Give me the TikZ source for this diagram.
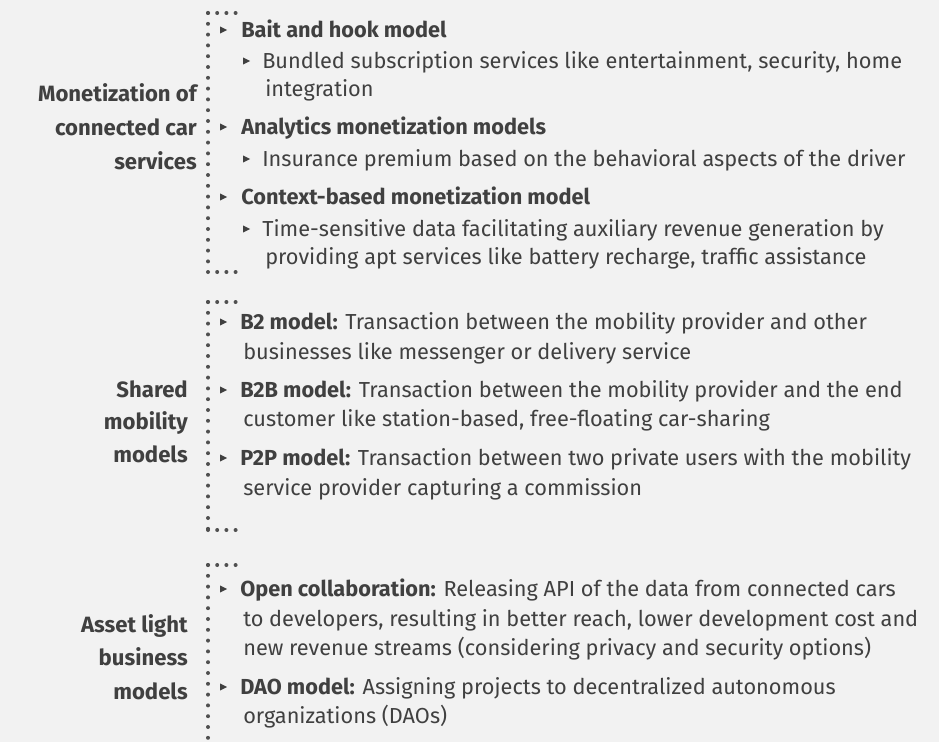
\documentclass[tikz,border=0pt]{standalone}
\usepackage{fontspec}
\setmainfont{Fira Sans}
\definecolor{bg}{HTML}{F2F2F2}
\definecolor{txt}{HTML}{404040}
\definecolor{dotc}{HTML}{505050}
\newcommand{\bodyfont}{\fontsize{16.3pt}{19pt}\selectfont}
\newcommand{\labfont}{\fontsize{16.6pt}{19pt}\selectfont\bfseries}
\newcommand{\mybul}[2]{\fill[txt] (#1-3,#2-3.6) -- (#1+4,#2) -- (#1-3,#2+3.6) -- cycle;}
\begin{document}
\begin{tikzpicture}[x=0.75pt,y=-0.75pt,
  line/.style={anchor=mid west,inner sep=0pt,text=txt,font=\bodyfont,yshift=-3.3pt},
  lab/.style={anchor=mid east,inner sep=0pt,text=txt,font=\labfont,yshift=-3.3pt},
  vdots/.style={draw=dotc,line width=3pt,line cap=round,dash pattern=on 0pt off 8.1pt},
  hdots/.style={draw=dotc,line width=3pt,line cap=round,dash pattern=on 0pt off 6.9pt}]
\useasboundingbox[fill=bg] (0,0) rectangle (939,742);
% ---------- group 1
\coordinate (g1a) at (208,13);
\coordinate (g1b) at (236.5,13);
\coordinate (g1c) at (208,272);
\coordinate (g1d) at (236.5,272);
\draw[hdots] (g1a) -- (g1b);
\draw[vdots] (g1a) -- (g1c);
\draw[hdots] (g1c) -- (g1d);
\node[lab] (l1a) at (197,94) {Monetization of};
\node[lab] (l1b) at (197,128) {connected car};
\node[lab] (l1c) at (197,162) {services};
\mybul{223}{30}
\node[line] (t1a) at (241,30) {\bfseries Bait and hook model};
\mybul{246}{61}
\node[line] (t1b) at (262,61) {Bundled subscription services like entertainment, security, home};
\node[line] (t1c) at (265,89) {integration};
\mybul{223}{127}
\node[line] (t1d) at (241,127) {\bfseries Analytics monetization models};
\mybul{246}{159}
\node[line] (t1e) at (262,159) {Insurance premium based on the behavioral aspects of the driver};
\mybul{223}{197}
\node[line] (t1f) at (241,197) {\bfseries Context-based monetization model};
\mybul{246}{229}
\node[line] (t1g) at (262,229) {Time-sensitive data facilitating auxiliary revenue generation by};
\node[line] (t1h) at (265,257) {providing apt services like battery recharge, traffic assistance};
% ---------- group 2
\coordinate (g2a) at (208,302);
\coordinate (g2b) at (236.5,302);
\coordinate (g2c) at (208,530);
\coordinate (g2d) at (236.5,530);
\draw[hdots] (g2a) -- (g2b);
\draw[vdots] (g2a) -- (g2c);
\draw[hdots] (g2c) -- (g2d);
\node[lab] (l2a) at (188,390) {Shared};
\node[lab] (l2b) at (188,422) {mobility};
\node[lab] (l2c) at (188,455) {models};
\mybul{223}{322}
\node[line] (t2a) at (240,322) {\textbf{B2 model:} Transaction between the mobility provider and other};
\node[line] (t2b) at (243,352) {businesses like messenger or delivery service};
\mybul{223}{390}
\node[line] (t2c) at (240,390) {\textbf{B2B model:} Transaction between the mobility provider and the end};
\node[line] (t2d) at (243,419) {customer like station-based, free-floating car-sharing};
\mybul{223}{458}
\node[line] (t2e) at (240,458) {\textbf{P2P model:} Transaction between two private users with the mobility};
\node[line] (t2f) at (243,488) {service provider capturing a commission};
% ---------- group 3
\coordinate (g3a) at (208,565);
\coordinate (g3b) at (236.5,565);
\coordinate (g3c) at (208,748);
\draw[hdots] (g3a) -- (g3b);
\draw[vdots] (g3a) -- (g3c);
\node[lab] (l3a) at (188,625) {Asset light};
\node[lab] (l3b) at (188,658) {business};
\node[lab] (l3c) at (188,692) {models};
\mybul{223}{589}
\node[line] (t3a) at (240,589) {\textbf{Open collaboration:} Releasing API of the data from connected cars};
\node[line] (t3b) at (243,619) {to developers, resulting in better reach, lower development cost and};
\node[line] (t3c) at (243,648) {new revenue streams (considering privacy and security options)};
\mybul{223}{687}
\node[line] (t3d) at (240,687) {\textbf{DAO model:} Assigning projects to decentralized autonomous};
\node[line] (t3e) at (243,716) {organizations (DAOs)};
\end{tikzpicture}
\end{document}
